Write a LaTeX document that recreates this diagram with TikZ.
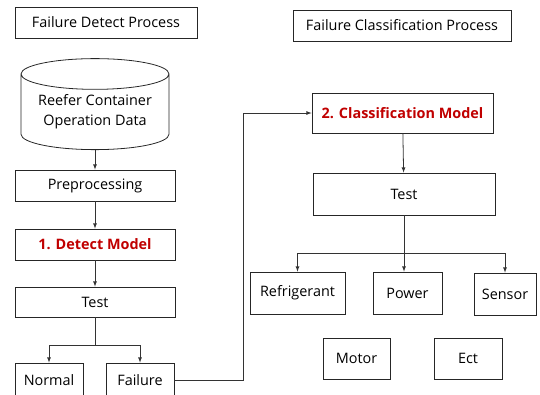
\documentclass[tikz,border=0pt]{standalone}
\usepackage{fontspec}
\setmainfont{Open Sans}
\usetikzlibrary{arrows, shapes.geometric}
\definecolor{modelred}{RGB}{192,0,0}
\tikzset{
  box/.style={draw=black!85, line width=0.8pt, rectangle, inner sep=0pt, font=\fontsize{14.4}{17}\selectfont},
  title/.style={box, minimum height=31pt},
  model/.style={box, text=modelred, font=\fontsize{14.4}{17}\selectfont\bfseries},
  db/.style={draw=black!85, line width=0.8pt, cylinder, shape border rotate=90, aspect=0.27,
    inner sep=0pt, align=center, font=\fontsize{14.4}{20}\selectfont},
  tra/.style={->, >=latex, draw=black!80, line width=0.8pt},
  lin/.style={draw=black!80, line width=0.8pt}
}

\begin{document}
\begin{tikzpicture}[x=1pt, y=-1pt]
		\useasboundingbox (0,0) rectangle (540,394);
		\clip (0,0) rectangle (540,394);
		% detect side
		\node[title, minimum width=182pt] (ttl1) at (106,22.5) {Failure Detect Process};
		\node[db, minimum width=148pt, minimum height=91pt] (data) at (95,112) {Reefer Container\\Operation Data};
		\node[box, minimum width=160pt, minimum height=31pt] (prep) at (95,185.5) {Preprocessing};
		\node[model, minimum width=160pt, minimum height=31pt] (detect) at (95,244.5) {1. Detect Model};
		\node[box, minimum width=160pt, minimum height=30pt] (test1) at (95,302) {Test};
		\node[box, minimum width=68pt, minimum height=34pt] (normal) at (49,380) {Normal};
		\node[box, minimum width=68pt, minimum height=34pt] (failure) at (140,380) {Failure};
		\coordinate (split1) at (95,345);
		\draw[tra] (data) -- (prep);
		\draw[tra] (prep) -- (detect);
		\draw[tra] (detect) -- (test1);
		\draw[lin] (test1) -- (split1);
		\draw[tra] (split1) -| (normal);
		\draw[tra] (split1) -| (failure);
		% classification side
		\node[title, minimum width=218pt] (ttl2) at (402,25.5) {Failure Classification Process};
		\node[model, minimum width=181pt, minimum height=40pt] (classm) at (402.5,113) {2. Classification Model};
		\node[box, minimum width=182pt, minimum height=42pt] (test2) at (404,194) {Test};
		\node[box, minimum width=95pt, minimum height=42pt] (refrig) at (297.5,293) {Refrigerant};
		\node[box, minimum width=69pt, minimum height=42pt] (power) at (407.5,293) {Power};
		\node[box, minimum width=62pt, minimum height=42pt] (sensor) at (505,294) {Sensor};
		\node[box, minimum width=67pt, minimum height=41pt] (motor) at (356.5,358.5) {Motor};
		\node[box, minimum width=68pt, minimum height=41pt] (ect) at (468,358.5) {Ect};
		\coordinate (split2) at (404,253);
		\draw[tra] (failure.east) -- ++(69,0) |- (classm.west);
		\draw[tra] (classm) -- (test2);
		\draw[tra] (test2.south) -- (test2.south |- power.north);
		\draw[tra] (split2) -| (refrig.north);
		\draw[tra] (split2) -| (sensor.north);
	\end{tikzpicture}
\end{document}
